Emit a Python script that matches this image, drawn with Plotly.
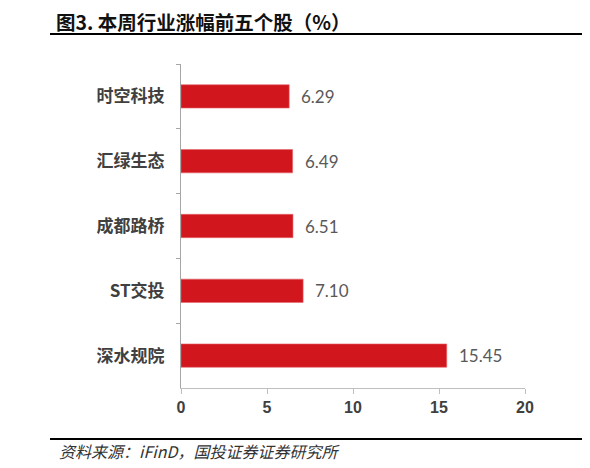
import plotly.graph_objects as go

# data
stocks = ["时空科技", "汇绿生态", "成都路桥", "ST交投", "深水规院"]
gains = [6.29, 6.49, 6.51, 7.10, 15.45]
x_ticks = [0, 5, 10, 15, 20]

title_text = "图3. 本周行业涨幅前五个股（%）"
source_text = "资料来源：iFinD，国投证券证券研究所"

# page body adds an 8px margin, so the figure is 8px smaller and shifted
OFF = 8
W, H = 590 - OFF, 468 - OFF
L, T = 181 - OFF, 64 - OFF
R, B = W - (525 - OFF), H - (388 - OFF)
pw = W - L - R
ph = H - T - B


def px_x(x):
    return (x - OFF - L) / pw


def px_y(y):
    return (H - B - (y - OFF)) / ph


fig = go.Figure()
fig.add_trace(go.Bar(
    x=gains,
    y=stocks,
    orientation="h",
    width=0.36,
    marker=dict(color="#D2161E", line=dict(color="#E4686C", width=0.6)),
    hoverinfo="skip",
))

# value labels to the right of each bar
for s, g in zip(stocks, gains):
    fig.add_annotation(
        x=g, y=s, xref="x", yref="y",
        text="{:.2f}".format(g),
        showarrow=False,
        xanchor="left", xshift=10,
        font=dict(family="Lato", size=17, color="#595959"),
    )

# source note
fig.add_annotation(
    x=px_x(57), y=px_y(451), xref="paper", yref="paper",
    text="<i>" + source_text + "</i>",
    showarrow=False, xanchor="left", yanchor="middle",
    font=dict(family="Noto Sans CJK SC", size=16, color="#333333"),
)

# rules under title and above source
fig.add_shape(type="line", xref="paper", yref="paper",
              x0=px_x(50), x1=px_x(590), y0=px_y(34), y1=px_y(34),
              line=dict(color="black", width=2))
fig.add_shape(type="line", xref="paper", yref="paper",
              x0=px_x(50), x1=px_x(590), y0=px_y(439), y1=px_y(439),
              line=dict(color="black", width=2))

fig.update_layout(
    width=W, height=H,
    margin=dict(l=L, r=R, t=T, b=B, autoexpand=False),
    paper_bgcolor="white", plot_bgcolor="white",
    showlegend=False,
    title=dict(
        text="<b>" + title_text + "</b>",
        x=(56 - OFF) / W, xanchor="left", xref="container",
        y=1 - (23 - OFF) / H, yanchor="middle", yref="container",
        font=dict(family="Noto Sans CJK SC", size=19.5, color="#111111"),
    ),
    xaxis=dict(
        range=[0, 20],
        tickvals=x_ticks,
        ticks="outside", ticklen=5, tickcolor="#BFBFBF",
        showline=True, linecolor="#BFBFBF", linewidth=1,
        showgrid=False, zeroline=False, automargin=False,
        tickfont=dict(family="Liberation Sans", size=16, color="#404040", weight="bold"),
    ),
    yaxis=dict(
        categoryorder="array", categoryarray=stocks,
        autorange="reversed",
        ticks="outside", ticklen=4, tickcolor="#A6A6A6",
        tickson="boundaries",
        showline=True, linecolor="#A6A6A6", linewidth=1,
        showgrid=False, zeroline=False, automargin=False,
        ticklabelstandoff=12,
        tickfont=dict(family="Noto Sans CJK SC", size=17, color="#404040", weight="bold"),
    ),
)

fig.write_html("out.html")
